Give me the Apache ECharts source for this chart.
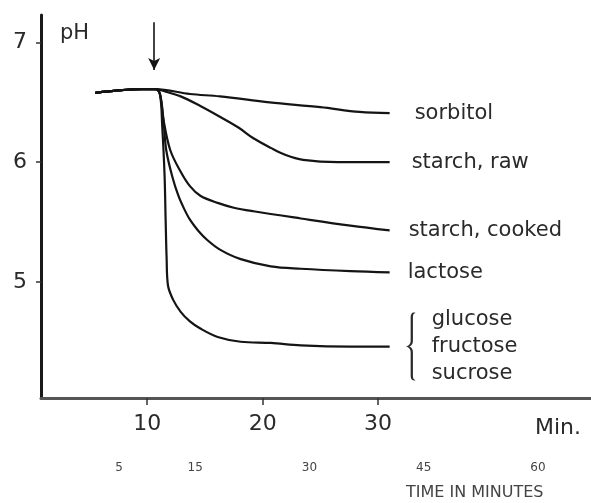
<!DOCTYPE html>
<html>
<head>
<meta charset="utf-8">
<script src="https://cdn.jsdelivr.net/npm/echarts@6/dist/echarts.min.js"></script>
<style>html,body{margin:0;padding:0;background:#fff;}#c{width:591px;height:503px;}</style>
</head>
<body>
<div id="c"></div>
<script>
// ---- data (time in minutes, pH) ----
const sorbitolT  = [5.5, 7.5, 9.5, 10.7, 13.7, 16.3, 20.6, 25.0, 28.4, 31.0];
const sorbitolPH = [6.58, 6.60, 6.61, 6.61, 6.57, 6.55, 6.50, 6.46, 6.42, 6.41];

const starchRawT  = [5.5, 7.5, 9.5, 10.7, 11.6, 12.9, 14.6, 16.3, 17.9, 19.2, 20.7, 22.0, 23.5, 26.5, 31.0];
const starchRawPH = [6.58, 6.60, 6.61, 6.61, 6.59, 6.55, 6.47, 6.38, 6.29, 6.20, 6.12, 6.06, 6.02, 6.00, 6.00];

const starchCookedT  = [5.5, 7.5, 9.5, 10.7, 11.1, 11.4, 12.0, 12.9, 13.7, 14.6, 16.1, 17.5, 19.2, 23.3, 27.6, 31.0];
const starchCookedPH = [6.58, 6.60, 6.61, 6.61, 6.57, 6.36, 6.10, 5.92, 5.80, 5.72, 5.66, 5.62, 5.59, 5.53, 5.47, 5.43];

const lactoseT  = [5.5, 7.5, 9.5, 10.7, 11.1, 11.4, 11.65, 12.2, 12.7, 13.2, 13.7, 14.4, 15.2, 16.3, 18.1, 20.7, 23.3, 27.6, 31.0];
const lactosePH = [6.58, 6.60, 6.61, 6.61, 6.57, 6.36, 6.10, 5.87, 5.72, 5.61, 5.52, 5.43, 5.35, 5.27, 5.19, 5.13, 5.11, 5.09, 5.08];

const glucoseT  = [5.5, 7.5, 9.5, 10.7, 11.1, 11.3, 11.5, 11.6, 11.68, 11.8, 12.25, 12.9, 13.7, 14.6, 16.1, 18.1, 20.7, 23.3, 27.6, 31.0];
const glucosePH = [6.58, 6.60, 6.61, 6.61, 6.57, 6.30, 5.90, 5.50, 5.20, 4.97, 4.85, 4.75, 4.67, 4.61, 4.54, 4.50, 4.49, 4.47, 4.46, 4.46];

const seriesNames = ['sorbitol', 'starch, raw', 'starch, cooked', 'lactose', 'glucose\nfructose\nsucrose'];
const xTicks = [10, 20, 30];
const yTicks = [5, 6, 7];
const minuteTicks = [5, 15, 30, 45, 60];
const arrowTime = 10.6, arrowFromPH = 7.17, arrowToPH = 6.77;

function pts(t, p) { return t.map((v, i) => [v, p[i]]); }

const FONT = 'DejaVu Sans';
const INK = '#141414';
const labelDist = [25, 22, 19, 18, 42];
const allT = [sorbitolT, starchRawT, starchCookedT, lactoseT, glucoseT];
const allP = [sorbitolPH, starchRawPH, starchCookedPH, lactosePH, glucosePH];

const series = seriesNames.map((name, i) => ({
  type: 'line',
  name: name,
  data: pts(allT[i], allP[i]),
  showSymbol: false,
  smooth: 0.35,
  lineStyle: { color: INK, width: 2.2 },
  endLabel: {
    show: true,
    formatter: name,
    distance: labelDist[i],
    fontFamily: FONT,
    fontSize: 21,
    lineHeight: 27,
    color: '#2a2a2a'
  },
  silent: true
}));

// thin curly brace grouping the glucose / fructose / sucrose label
const BRACE = 'path://M9,0 C6,0 5,3 5,8 L5,42 C5,46 3,49 0,50 C3,51 5,54 5,58 L5,92 C5,97 6,100 9,100 L10,100 L10,99 C8,99 7.5,96 7.5,92 L7.5,58 C7.5,54 6,51 3.5,50 C6,49 7.5,46 7.5,42 L7.5,8 C7.5,4 8,1 10,1 L10,0 Z';
series[4].markPoint = {
  symbol: BRACE,
  symbolSize: [9, 68],
  symbolKeepAspect: false,
  symbolOffset: [21, 0],
  silent: true,
  itemStyle: { color: '#2a2a2a' },
  label: { show: false },
  data: [{ coord: [glucoseT[glucoseT.length - 1], glucosePH[glucosePH.length - 1]] }]
};
// injection arrow
series[0].markLine = {
  silent: true,
  symbol: ['none', 'arrow'],
  symbolSize: [9, 12],
  label: { show: false },
  lineStyle: { color: INK, width: 1.6, type: 'solid' },
  data: [[{ coord: [arrowTime, arrowFromPH] }, { coord: [arrowTime, arrowToPH] }]]
};

// hidden series to anchor the minute axis
series.push({ type: 'line', xAxisIndex: 1, yAxisIndex: 1, data: [], silent: true });

const option = {
  animation: false,
  backgroundColor: '#fff',
  title: [
    { text: 'pH', left: 60, top: 23, padding: 0, textStyle: { fontFamily: FONT, fontSize: 21, fontWeight: 'normal', color: '#2a2a2a' } },
    { text: 'Min.', left: 535, top: 417, padding: 0, textStyle: { fontFamily: FONT, fontSize: 22, fontWeight: 'normal', color: '#2a2a2a' } },
    { text: 'TIME IN MINUTES', left: 406, top: 485, padding: 0, textStyle: { fontFamily: FONT, fontSize: 16, fontWeight: 'normal', color: '#444' } }
  ],
  grid: [
    { left: 41, right: 0, top: 15, bottom: 105 },
    { left: 81, width: 457, top: 440, height: 10 }
  ],
  xAxis: [
    {
      type: 'value', gridIndex: 0, min: 0.8, max: 48.44,
      axisLine: { show: true, lineStyle: { color: '#555', width: 3 } },
      axisTick: { show: true, customValues: xTicks, length: 7, lineStyle: { color: '#333', width: 1.5 } },
      axisLabel: { customValues: xTicks, margin: 15, fontFamily: FONT, fontSize: 22, color: '#2a2a2a' },
      splitLine: { show: false }
    },
    {
      type: 'value', gridIndex: 1, min: 0, max: 60,
      axisLine: { show: false }, axisTick: { show: false },
      axisLabel: { customValues: minuteTicks, margin: 12, fontFamily: FONT, fontSize: 12, color: '#444' },
      splitLine: { show: false }
    }
  ],
  yAxis: [
    {
      type: 'value', gridIndex: 0, min: 4.03, max: 7.23,
      axisLine: { show: true, lineStyle: { color: '#1a1a1a', width: 3 } },
      axisTick: { show: true, customValues: yTicks, length: 5, lineStyle: { color: '#333', width: 1.5 } },
      axisLabel: { customValues: yTicks, margin: 14, fontFamily: FONT, fontSize: 22, color: '#2a2a2a' },
      splitLine: { show: false }
    },
    { type: 'value', gridIndex: 1, show: false }
  ],
  series: series
};

const chart = echarts.init(document.getElementById('c'), null, { renderer: 'canvas' });
chart.setOption(option);
</script>
</body>
</html>
